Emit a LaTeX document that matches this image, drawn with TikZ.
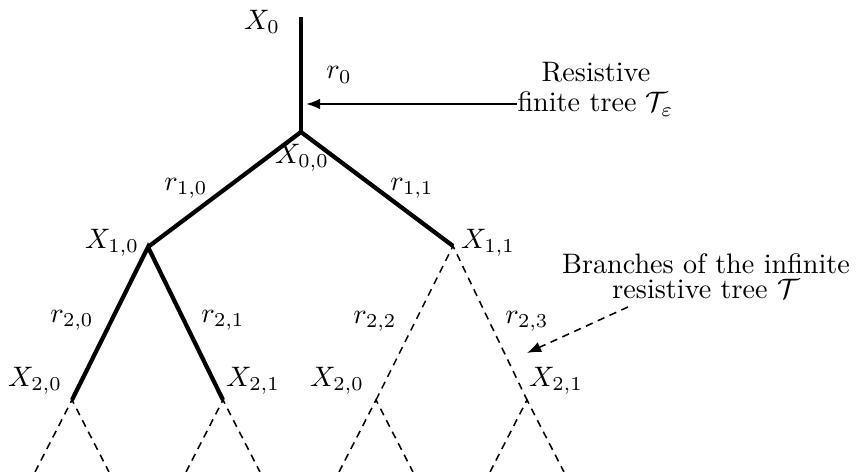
\documentclass[tikz,border=0pt]{standalone}
\usetikzlibrary{arrows.meta}
\begin{document}
\begin{tikzpicture}[x=0.355pt,y=-0.355pt,
  thickedge/.style={line width=1.5pt},
  dashedge/.style={line width=0.55pt,dash pattern=on 2.6pt off 2pt},
  lbl/.style={inner sep=0pt,anchor=center},
  note/.style={inner sep=0pt,align=center}]
\useasboundingbox (0,0) rectangle (858,472);
% tree points
\coordinate (root) at (301,17);
\coordinate (n00) at (301,132);
\coordinate (n10) at (148,247);
\coordinate (n11) at (453,246);
\coordinate (n20) at (72,400);
\coordinate (n21) at (223,400);
\coordinate (n22) at (376,400);
\coordinate (n23) at (527,400);
\coordinate (l0) at (35,472);
\coordinate (l1) at (109,472);
\coordinate (l2) at (186,472);
\coordinate (l3) at (260,472);
\coordinate (l4) at (339,472);
\coordinate (l5) at (413,472);
\coordinate (l6) at (490,472);
\coordinate (l7) at (564,472);
% finite tree
\draw[thickedge] (root) -- (n00);
\draw[thickedge,line join=miter] (n10) -- (n00) -- (n11);
\draw[thickedge] (n20) -- (n10) -- (n21);
% infinite branches
\draw[dashedge] (n22) -- (n11) -- (n23);
\draw[dashedge] (l0) -- (n20) -- (l1);
\draw[dashedge] (l2) -- (n21) -- (l3);
\draw[dashedge] (l4) -- (n22) -- (l5);
\draw[dashedge] (l6) -- (n23) -- (l7);
% labels
\node[lbl] (tX0) at (262,22) {$X_0$};
\node[lbl] (tr0) at (339,75) {$r_0$};
\node[lbl] (tX00) at (302,158) {$X_{0,0}$};
\node[lbl] (tr10) at (186,188) {$r_{1,0}$};
\node[lbl] (tr11) at (412,188) {$r_{1,1}$};
\node[lbl] (tX10) at (112,243) {$X_{1,0}$};
\node[lbl] (tX11) at (488,243) {$X_{1,1}$};
\node[lbl] (tr20) at (72,320) {$r_{2,0}$};
\node[lbl] (tr21) at (223,320) {$r_{2,1}$};
\node[lbl] (tr22) at (375,321) {$r_{2,2}$};
\node[lbl] (tr23) at (527,321) {$r_{2,3}$};
\node[lbl] (tX20a) at (35,381) {$X_{2,0}$};
\node[lbl] (tX21a) at (253,381) {$X_{2,1}$};
\node[lbl] (tX20b) at (337,381) {$X_{2,0}$};
\node[lbl] (tX21b) at (556,381) {$X_{2,1}$};
% notes
\node[note] (res) at (596,72) {Resistive};
\node[note,anchor=west] (fin) at (517,104) {finite tree $\mathcal{T}_\varepsilon$};
\coordinate (tip1) at (306,104);
\draw[line width=0.75pt,-{Latex[length=5pt,width=3.8pt]}] (fin.west) -- (tip1);
\node[note] (br) at (706,276) {Branches of the infinite\\[-3pt]resistive tree $\mathcal{T}$};
\coordinate (s2) at (628,307);
\coordinate (tip2) at (527,353);
\draw[dashedge,-{Latex[length=5pt,width=3.8pt]}] (s2) -- (tip2);
\end{tikzpicture}
\end{document}
